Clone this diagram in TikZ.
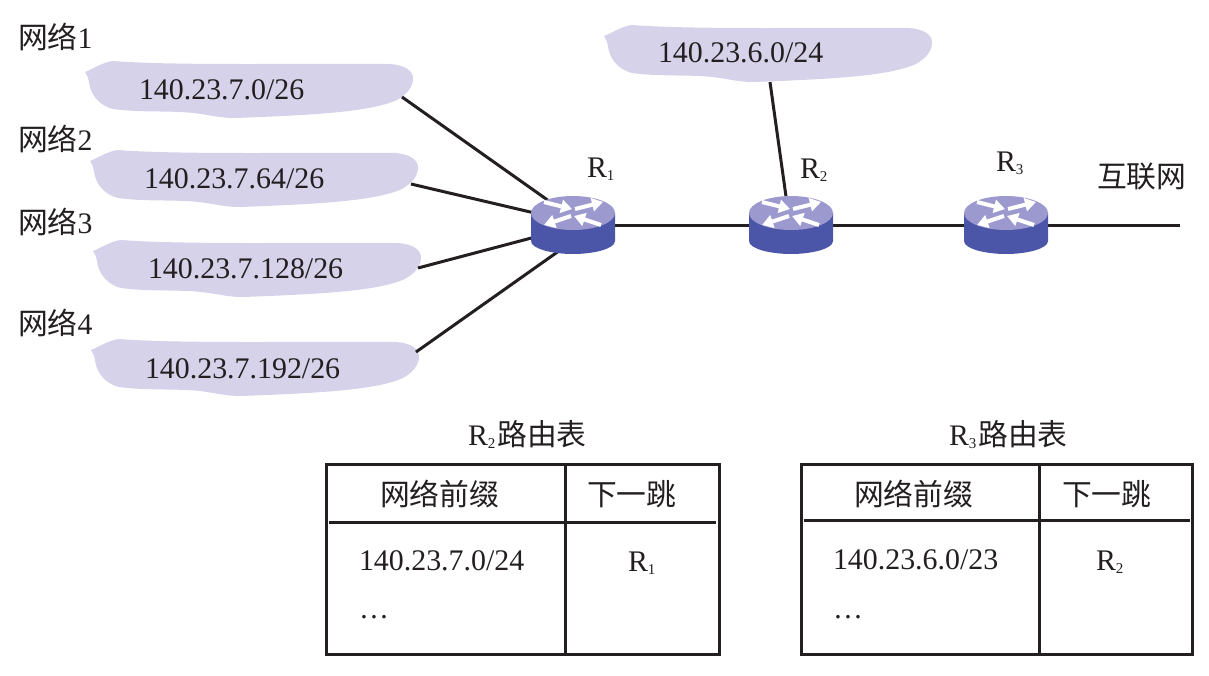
\documentclass[tikz,border=0pt]{standalone}
\usepackage{fontspec}
\setmainfont{Liberation Serif}
\newfontfamily\cjk{Noto Sans CJK SC}
\usetikzlibrary{arrows.meta}
\definecolor{ink}{HTML}{231F20}
\definecolor{cloudc}{HTML}{D5D2EA}
\definecolor{rtop}{HTML}{9C99CF}
\definecolor{rbody}{HTML}{4C56A8}
\newcommand{\Rsub}[1]{R\raisebox{-0.12em}{\fontsize{15}{15}\selectfont #1}}
\tikzset{
  x=1pt,y=-1pt,
  lbl/.style={anchor=base west,inner sep=0pt,outer sep=0pt,text=ink,font=\fontsize{29.9}{30}\selectfont},
  zh/.style={lbl,font=\fontsize{29.8}{30}\selectfont\cjk},
  link/.style={draw=ink,line width=3pt},
  grid/.style={draw=ink,line width=3pt},
  rnode/.style={minimum width=85pt,minimum height=57pt,inner sep=0pt,outer sep=0pt},
  rarrow/.style={white,line width=4pt,-{Triangle[width=13pt,length=11pt]}},
  blob/.pic={
    \fill[cloudc] (0,0) .. controls (8,-3) and (18,-10) .. (28,-11)
      .. controls (90,-6) and (230,-9) .. (305,-8)
      .. controls (320,-7) and (329,-1) .. (328,8)
      .. controls (327,16) and (322,22) .. (312,28)
      .. controls (285,40) and (230,43) .. (150,46)
      .. controls (130,46) and (120,41) .. (95,40)
      .. controls (70,39) and (50,40) .. (28,37)
      .. controls (12,33) and (5,20) .. (4,10)
      .. controls (3,5) and (2,3) .. (0,0) -- cycle;
  },
  router/.pic={
    \fill[rbody] (-42,0) -- (-42,28) .. controls (-42,36) and (-20,41) .. (0,41)
      .. controls (20,41) and (42,36) .. (42,28) -- (42,0) -- cycle;
    \fill[rtop] (0,0) ellipse [x radius=42,y radius=17];
    \draw[rarrow] (-29,-11) -- (-1,-4);
    \draw[rarrow] (2,-4) -- (30,-11);
    \draw[rarrow] (-2,3) -- (-29,12);
    \draw[rarrow] (28,12) -- (1,3);
  }
}
\begin{document}
\begin{tikzpicture}
\useasboundingbox (0,0) rectangle (1209,675);
% clouds
\pic at (85,72) {blob};
\pic at (90,161) {blob};
\pic at (93,251) {blob};
\pic at (91,350) {blob};
\pic at (604,36) {blob};
% router anchors
\node[rnode] (R1) at (573,225) {};
\node[rnode] (R2) at (791,225) {};
\node[rnode] (R3) at (1006,225) {};
\coordinate (net1) at (402,97);
\coordinate (net2) at (411,184);
\coordinate (net3) at (418,268);
\coordinate (net4) at (416,352);
\coordinate (net5) at (770,82);
\coordinate (inet) at (1180,225);
\coordinate (r1a) at (573,218);
\coordinate (r1b) at (573,222);
\coordinate (r1c) at (573,227);
\coordinate (r1d) at (573,241);
\coordinate (r2a) at (790,225);
% connectors
\draw[link] (net1) -- (r1a);
\draw[link] (net2) -- (r1b);
\draw[link] (net3) -- (r1c);
\draw[link] (net4) -- (r1d);
\draw[link] (net5) -- (r2a);
\draw[link] (R1.center) -- (R2.center);
\draw[link] (R2.center) -- (R3.center);
\draw[link] (R3.center) -- (inet);
% routers
\pic at (573,213) {router};
\pic at (791,213) {router};
\pic at (1006,213) {router};
% network labels
\node[zh] (n1) at (18,48) {网络\fontspec{Liberation Serif}1};
\node[zh] (n2) at (18,150) {网络\fontspec{Liberation Serif}2};
\node[zh] (n3) at (18,233) {网络\fontspec{Liberation Serif}3};
\node[zh] (n4) at (18,334) {网络\fontspec{Liberation Serif}4};
\node[lbl] (a1) at (139,99) {140.23.7.0/26};
\node[lbl] (a2) at (144,188) {140.23.7.64/26};
\node[lbl] (a3) at (148,278) {140.23.7.128/26};
\node[lbl] (a4) at (145,378) {140.23.7.192/26};
\node[lbl] (a5) at (658,62) {140.23.6.0/24};
\node[lbl] (l1) at (587,177) {\Rsub{1}};
\node[lbl] (l2) at (800,178) {\Rsub{2}};
\node[lbl] (l3) at (996,171) {\Rsub{3}};
\node[zh] (inetl) at (1097,187) {互联网};
% table titles
\node[zh] (t2) at (468,445) {\fontspec{Liberation Serif}\Rsub{2}\kern2pt\cjk 路由表};
\node[zh] (t3) at (949,445) {\fontspec{Liberation Serif}\Rsub{3}\kern2pt\cjk 路由表};
% table R2
\draw[grid] (326,464) rectangle (719,654);
\draw[grid] (565,464) -- (565,654);
\draw[grid] (329,522) -- (716,522);
\node[zh] (h21) at (380,505) {网络前缀};
\node[zh] (h22) at (587,505) {下一跳};
\node[lbl] (c21) at (359,570) {140.23.7.0/24};
\node[lbl] (c22) at (359,618) {…};
\node[lbl] (c23) at (628,571) {\Rsub{1}};
% table R3
\draw[grid] (801,464) rectangle (1192,654);
\draw[grid] (1039,464) -- (1039,654);
\draw[grid] (804,520) -- (1190,520);
\node[zh] (h31) at (854,505) {网络前缀};
\node[zh] (h32) at (1062,505) {下一跳};
\node[lbl] (c31) at (833,569) {140.23.6.0/23};
\node[lbl] (c32) at (833,618) {…};
\node[lbl] (c33) at (1096,570) {\Rsub{2}};
\end{tikzpicture}
\end{document}
